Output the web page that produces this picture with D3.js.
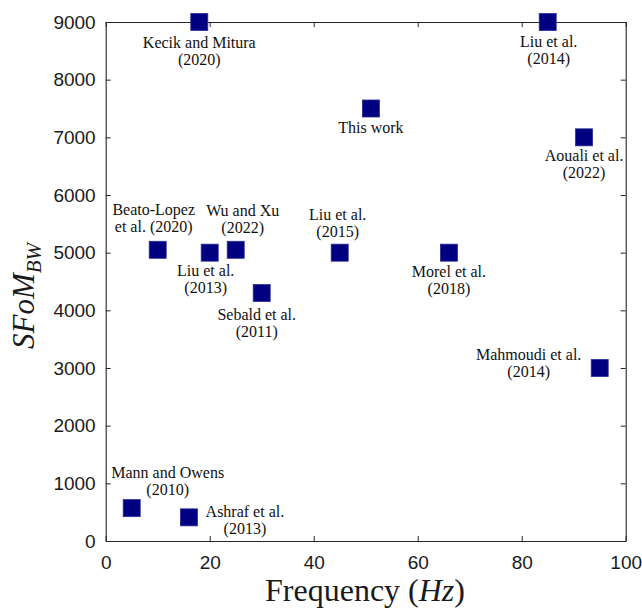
<!DOCTYPE html>
<html>
<head>
<meta charset="utf-8">
<script src="https://cdn.jsdelivr.net/npm/d3@7"></script>
<style>
  html, body { margin: 0; padding: 0; background: #fff; }
  svg { display: block; }
  .serif { font-family: "Liberation Serif", "DejaVu Serif", "Noto Serif", serif; }
  .sans { font-family: "Liberation Sans", Arial, sans-serif; }
</style>
</head>
<body>
<script>
// Published energy-harvesting results: frequency vs. bandwidth figure of merit
const studyLabels = [
  ["Kecik and Mitura", "(2020)"],
  ["Liu et al.", "(2014)"],
  ["This work"],
  ["Aouali et al.", "(2022)"],
  ["Morel et al.", "(2018)"],
  ["Mahmoudi et al.", "(2014)"],
  ["Beato-Lopez", "et al. (2020)"],
  ["Wu and Xu", "(2022)"],
  ["Liu et al.", "(2013)"],
  ["Sebald et al.", "(2011)"],
  ["Liu et al.", "(2015)"],
  ["Mann and Owens", "(2010)"],
  ["Ashraf et al.", "(2013)"]
];
const frequencyHz = [18, 85, 51, 92, 66, 95, 10, 25, 20, 30, 45, 5, 16];
const sfomBW      = [9000, 9000, 7500, 7000, 5000, 3000, 5050, 5050, 5000, 4300, 5000, 570, 410];

const xTicks = [0, 20, 40, 60, 80, 100];
const yTicks = [0, 1000, 2000, 3000, 4000, 5000, 6000, 7000, 8000, 9000];

// Where each annotation sits relative to its marker
const labelPlacement = [
  { dx: 0,   dy: 26 },
  { dx: 1,   dy: 25 },
  { dx: 0,   dy: 24 },
  { dx: 0,   dy: 24 },
  { dx: 0,   dy: 24 },
  { dx: -71, dy: -8 },
  { dx: -4,  dy: -35 },
  { dx: 7,   dy: -34 },
  { dx: -4,  dy: 23 },
  { dx: -5,  dy: 27 },
  { dx: -2,  dy: -33 },
  { dx: 36,  dy: -30 },
  { dx: 56,  dy: 0 }
];

const W = 642, H = 608;
const plotLeft = 105.7, plotRight = 625.7, plotTop = 22, plotBottom = 541;
const axisColor = "#262626";
const markerColor = "#000080";

const svg = d3.select("body").append("svg")
  .attr("width", W).attr("height", H);

const x = d3.scaleLinear().domain([0, 100]).range([plotLeft, plotRight]);
const y = d3.scaleLinear().domain([0, 9000]).range([plotBottom, plotTop]);

function styleAxis(g, showText) {
  g.attr("font-family", null).attr("font-size", null);
  g.selectAll("path.domain").attr("stroke", axisColor).attr("stroke-width", 1.1);
  g.selectAll(".tick line").attr("stroke", axisColor).attr("stroke-width", 1);
  g.selectAll(".tick text")
    .attr("class", "sans")
    .attr("fill", "#1a1a1a")
    .style("font-size", "19px");
  if (!showText) g.selectAll(".tick text").remove();
}

// Boxed axes with inward ticks on all four sides
svg.append("g").attr("transform", `translate(0,${plotBottom})`)
  .call(d3.axisBottom(x).tickValues(xTicks).tickSizeInner(-5).tickSizeOuter(0).tickPadding(15))
  .call(g => styleAxis(g, true));
svg.append("g").attr("transform", `translate(0,${plotTop})`)
  .call(d3.axisTop(x).tickValues(xTicks).tickSizeInner(-5).tickSizeOuter(0))
  .call(g => styleAxis(g, false));
svg.append("g").attr("transform", `translate(${plotLeft},0)`)
  .call(d3.axisLeft(y).tickValues(yTicks).tickSizeInner(-5).tickSizeOuter(0).tickPadding(10).tickFormat(d3.format("d")))
  .call(g => styleAxis(g, true));
svg.append("g").attr("transform", `translate(${plotRight},0)`)
  .call(d3.axisRight(y).tickValues(yTicks).tickSizeInner(-5).tickSizeOuter(0))
  .call(g => styleAxis(g, false));

// Axis titles
const xt = svg.append("text")
  .attr("class", "serif")
  .attr("x", 365).attr("y", 601)
  .attr("text-anchor", "middle")
  .attr("fill", "#1a1a1a")
  .style("font-size", "32px");
xt.append("tspan").text("Frequency (");
xt.append("tspan").style("font-style", "italic").text("Hz");
xt.append("tspan").text(")");

const yt = svg.append("text")
  .attr("class", "serif")
  .attr("transform", `translate(34,296) rotate(-90)`)
  .attr("text-anchor", "middle")
  .attr("fill", "#1a1a1a")
  .style("font-size", "31px").style("font-style", "italic");
yt.append("tspan").text("SFoM");
yt.append("tspan").attr("dy", 7).style("font-size", "21px").text("BW");

// Markers
const pts = frequencyHz.map((f, i) => ({ f, s: sfomBW[i], lines: studyLabels[i], pos: labelPlacement[i] }));
const size = 17;
svg.append("g").selectAll("rect").data(pts).join("rect")
  .attr("x", d => x(d.f) - size / 2)
  .attr("y", d => y(d.s) - size / 2)
  .attr("width", size).attr("height", size)
  .attr("fill", markerColor)
  .attr("stroke", "#2a2a96").attr("stroke-width", 0.8);

// Annotations
const lab = svg.append("g").selectAll("text").data(pts).join("text")
  .attr("class", "serif")
  .attr("text-anchor", "middle")
  .attr("fill", "#111")
  .style("font-size", "16px");
lab.each(function (d) {
  const t = d3.select(this);
  d.lines.forEach((line, j) => {
    t.append("tspan")
      .attr("x", x(d.f) + d.pos.dx)
      .attr("y", y(d.s) + d.pos.dy + j * 17)
      .text(line);
  });
});
</script>
</body>
</html>
